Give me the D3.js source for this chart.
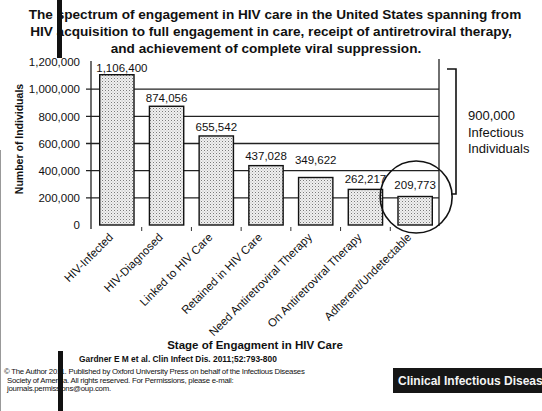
<!DOCTYPE html>
<html>
<head>
<meta charset="utf-8">
<script src="https://cdn.jsdelivr.net/npm/d3@7"></script>
<style>
  html, body { margin: 0; padding: 0; background: #fff; }
  svg { display: block; }
  text { font-family: Arial, "Liberation Sans", sans-serif; fill: #111; }
</style>
</head>
<body>
<svg id="chart" width="542" height="411"></svg>
<script>
// Stages of the HIV care cascade and number of individuals at each stage
const stages = [
  "HIV-Infected",
  "HIV-Diagnosed",
  "Linked to HIV Care",
  "Retained in HIV Care",
  "Need Antiretroviral Therapy",
  "On Antiretroviral Therapy",
  "Adherent/Undetectable"
];
const individuals = [1106400, 874056, 655542, 437028, 349622, 262217, 209773];
const yTicks = [0, 200000, 400000, 600000, 800000, 1000000, 1200000];
const gridValues = [200000, 400000, 600000, 800000, 1000000];
const titleLines = [
  "The spectrum of engagement in HIV care in the United States spanning from",
  "HIV acquisition to full engagement in care, receipt of antiretroviral therapy,",
  "and achievement of complete viral suppression."
];
const sideNote = ["900,000", "Infectious", "Individuals"];
const copyrightLines = [
  "\u00A9 The Author 2011. Published by Oxford University Press on behalf of the Infectious Diseases",
  "Society of America. All rights reserved. For Permissions, please e-mail:",
  "journals.permissions@oup.com."
];
const bannerText = "Clinical Infectious Diseas";

const svg = d3.select("#chart");

// Stipple fill for the bars
const defs = svg.append("defs");
const pat = defs.append("pattern")
  .attr("id", "stipple").attr("patternUnits", "userSpaceOnUse")
  .attr("width", 3).attr("height", 3);
pat.append("rect").attr("width", 3).attr("height", 3).attr("fill", "#f0f0f0");
pat.append("rect").attr("x", 0).attr("y", 0).attr("width", 1).attr("height", 1).attr("fill", "#7a7a7a");
pat.append("rect").attr("x", 1.5).attr("y", 1.5).attr("width", 1).attr("height", 1).attr("fill", "#b0b0b0");

const x = d3.scaleBand().domain(stages).range([92, 440]).paddingInner(0.31).paddingOuter(0.155);
const y = d3.scaleLinear().domain([0, 1200000]).range([225, 62]);
const right = x.range()[1] - 1;

// Title
svg.append("g").selectAll("text").data(titleLines).join("text")
  .attr("x", (d, i) => [275, 271, 266][i])
  .attr("y", (d, i) => 19 + i * 17)
  .attr("text-anchor", "middle")
  .attr("font-weight", "bold")
  .attr("font-size", 13.6)
  .text(d => d);

// Horizontal gridlines behind the bars
svg.append("g").selectAll("line").data(gridValues).join("line")
  .attr("x1", 86).attr("x2", right)
  .attr("y1", d => y(d)).attr("y2", d => y(d))
  .attr("stroke", "#222").attr("stroke-width", 1.3);

// Y axis
const yAxis = d3.axisLeft(y).tickValues(yTicks).tickFormat(d3.format(",")).tickSize(0).tickPadding(11);
const yg = svg.append("g").attr("transform", "translate(91,0)").call(yAxis);
yg.select(".domain").remove();
yg.selectAll("text").attr("font-size", 11.5).attr("font-family", "Arial, 'Liberation Sans', sans-serif").attr("fill", "#111");
svg.append("line").attr("x1", 91).attr("x2", 91).attr("y1", 61).attr("y2", 229)
  .attr("stroke", "#222").attr("stroke-width", 1.3);

// Right frame line
svg.append("line").attr("x1", right).attr("x2", right).attr("y1", 59).attr("y2", 226)
  .attr("stroke", "#222").attr("stroke-width", 1.3);

// Bars
svg.append("g").selectAll("rect").data(individuals).join("rect")
  .attr("x", (d, i) => x(stages[i]))
  .attr("y", d => y(d))
  .attr("width", x.bandwidth())
  .attr("height", d => y(0) - y(d))
  .attr("fill", "url(#stipple)")
  .attr("stroke", "#111").attr("stroke-width", 1.4);

// Value labels above the bars
const labelGap = [3, 4, 5, 6, 14, 6, 8];
svg.append("g").selectAll("text").data(individuals).join("text")
  .attr("x", (d, i) => x(stages[i]) + x.bandwidth() / 2 + (i === 0 ? 5 : 0))
  .attr("y", (d, i) => y(d) - labelGap[i])
  .attr("text-anchor", "middle")
  .attr("font-size", 11.5)
  .text(d => d3.format(",")(d));

// Small category boundary ticks under the baseline
const step = x.step();
svg.append("g").selectAll("line").data(stages.slice(1)).join("line")
  .attr("x1", d => x(d) - step * x.paddingInner() / 2)
  .attr("x2", d => x(d) - step * x.paddingInner() / 2)
  .attr("y1", 227).attr("y2", 231)
  .attr("stroke", "#333").attr("stroke-width", 1);

// Rotated category labels
svg.append("g").selectAll("text").data(stages).join("text")
  .attr("transform", d => `translate(${x(d) + x.bandwidth() / 2 - 3},238) rotate(-45)`)
  .attr("text-anchor", "end")
  .attr("font-size", 11.5)
  .text(d => d);

// Axis titles
svg.append("text")
  .attr("transform", "translate(23,139) rotate(-90)")
  .attr("text-anchor", "middle")
  .attr("font-weight", "bold").attr("font-size", 10.5)
  .text("Number of Individuals");
svg.append("text")
  .attr("x", 255).attr("y", 349)
  .attr("text-anchor", "middle")
  .attr("font-weight", "bold").attr("font-size", 11.5)
  .text("Stage of Engagment in HIV Care");

// Highlight circle around the last stage
const last = stages[stages.length - 1];
svg.append("circle")
  .attr("cx", x(last) + x.bandwidth() / 2 + 1).attr("cy", 197).attr("r", 36)
  .attr("fill", "none").attr("stroke", "#111").attr("stroke-width", 1.6);

// Bracket marking the infectious population
svg.append("path")
  .attr("d", "M447,69 H456 V194 H451")
  .attr("fill", "none").attr("stroke", "#111").attr("stroke-width", 1.6);
svg.append("g").selectAll("text").data(sideNote).join("text")
  .attr("x", 468).attr("y", (d, i) => 120 + i * 16.5)
  .attr("font-family", "Lato, 'Open Sans', sans-serif")
  .attr("font-size", 13)
  .text(d => d);

// Source and copyright
svg.append("text")
  .attr("x", 79).attr("y", 362)
  .attr("font-weight", "bold").attr("font-size", 8.4)
  .text("Gardner E M et al. Clin Infect Dis. 2011;52:793-800");
svg.append("g").selectAll("text").data(copyrightLines).join("text")
  .attr("x", (d, i) => i === 0 ? 4 : 7)
  .attr("y", (d, i) => 374 + i * 8.5)
  .attr("font-size", 7.8)
  .attr("letter-spacing", -0.25)
  .text(d => d);

// Journal banner
svg.append("rect").attr("x", 393).attr("y", 368).attr("width", 149).attr("height", 25).attr("fill", "#161616");
svg.append("text")
  .attr("x", 398).attr("y", 385)
  .attr("font-weight", "bold").attr("font-size", 12)
  .style("fill", "#f4f4f4")
  .text(bannerText);

// Dark vertical strips and left edge
svg.append("rect").attr("x", 57).attr("y", 0).attr("width", 5).attr("height", 58).attr("fill", "#111");
svg.append("rect").attr("x", 58).attr("y", 351).attr("width", 5).attr("height", 60).attr("fill", "#111");
svg.append("line").attr("x1", 0.5).attr("x2", 0.5).attr("y1", 150).attr("y2", 411)
  .attr("stroke", "#999").attr("stroke-width", 1);
</script>
</body>
</html>
